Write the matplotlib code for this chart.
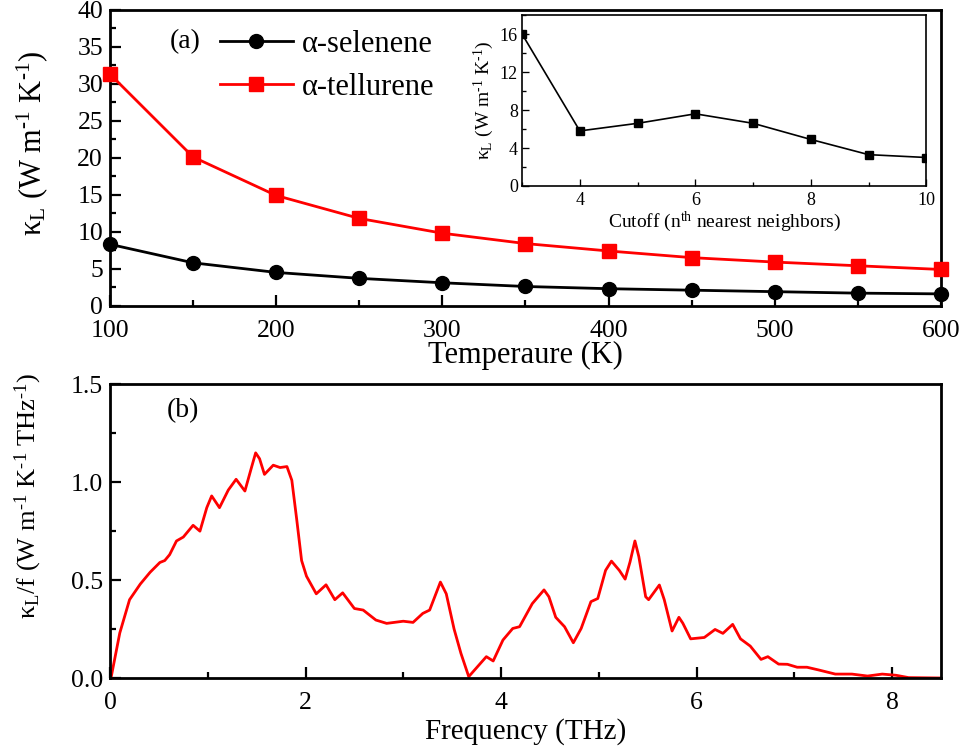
import matplotlib

matplotlib.use("Agg")
import matplotlib.pyplot as plt
from matplotlib.ticker import MultipleLocator

plt.rcParams["font.family"] = ["Liberation Serif", "DejaVu Serif"]
plt.rcParams["mathtext.fontset"] = "custom"
plt.rcParams["mathtext.rm"] = "Liberation Serif"
plt.rcParams["mathtext.it"] = "Liberation Serif:italic"
plt.rcParams["xtick.direction"] = "in"
plt.rcParams["ytick.direction"] = "in"

# panel (a): lattice thermal conductivity vs temperature
temperature = [100, 150, 200, 250, 300, 350, 400, 450, 500, 550, 600]
kappa_selenene = [8.3, 5.8, 4.5, 3.7, 3.1, 2.6, 2.3, 2.1, 1.9, 1.7, 1.6]
kappa_tellurene = [31.3, 20.1, 14.9, 11.8, 9.8, 8.4, 7.4, 6.5, 5.9, 5.4, 4.9]

# inset: convergence with cutoff
cutoff = [3, 4, 5, 6, 7, 8, 9, 10]
kappa_cutoff = [16.0, 5.8, 6.6, 7.6, 6.6, 4.9, 3.3, 3.0]

# panel (b): spectral kappa
freq = [0.0, 0.01, 0.10, 0.20, 0.31, 0.41, 0.51, 0.56, 0.61, 0.68, 0.75, 0.80,
        0.85, 0.92, 0.99, 1.04, 1.12, 1.21, 1.29, 1.38, 1.45, 1.49, 1.53, 1.58,
        1.67, 1.74, 1.81, 1.86, 1.91, 1.96, 2.01, 2.11, 2.21, 2.30, 2.38, 2.50,
        2.59, 2.72, 2.83, 3.00, 3.10, 3.20, 3.27, 3.38, 3.44, 3.52, 3.59, 3.67,
        3.76, 3.85, 3.92, 4.02, 4.12, 4.19, 4.32, 4.44, 4.49, 4.56, 4.65, 4.74,
        4.82, 4.92, 4.99, 5.07, 5.13, 5.21, 5.27, 5.32, 5.37, 5.41, 5.48, 5.51,
        5.62, 5.67, 5.75, 5.82, 5.86, 5.94, 6.08, 6.19, 6.27, 6.37, 6.45, 6.55,
        6.66, 6.73, 6.84, 6.93, 7.03, 7.13, 7.25, 7.42, 7.59, 7.75, 7.90, 8.04,
        8.17, 8.5]
spectral = [0.0, 0.0, 0.23, 0.40, 0.48, 0.54, 0.59, 0.60, 0.63, 0.70, 0.72, 0.75,
            0.78, 0.75, 0.87, 0.93, 0.87, 0.96, 1.015, 0.955, 1.08, 1.15, 1.12, 1.04,
            1.087, 1.075, 1.08, 1.01, 0.81, 0.60, 0.52, 0.43, 0.476, 0.40, 0.435, 0.355,
            0.347, 0.296, 0.279, 0.29, 0.284, 0.33, 0.347, 0.49, 0.43, 0.25, 0.126, 0.007,
            0.058, 0.109, 0.087, 0.194, 0.253, 0.262, 0.38, 0.45, 0.415, 0.31, 0.262, 0.18,
            0.253, 0.39, 0.406, 0.55, 0.597, 0.55, 0.505, 0.593, 0.70, 0.62, 0.415, 0.40,
            0.475, 0.40, 0.24, 0.31, 0.28, 0.20, 0.207, 0.248, 0.228, 0.274, 0.20, 0.163,
            0.095, 0.109, 0.071, 0.07, 0.055, 0.055, 0.041, 0.02, 0.02, 0.01, 0.02, 0.014,
            0.002, 0.0]

RED = "#ff0000"
INV = r"$^{\text{-1}}$"
KL = r"κ$_{\mathrm{L}}$"

fig = plt.figure(figsize=(9.65, 7.53), dpi=100)
ax1 = fig.add_axes([0.114, 0.594, 0.861, 0.393])
ax2 = fig.add_axes([0.114, 0.0996, 0.861, 0.390])
axin = fig.add_axes([0.541, 0.753, 0.419, 0.227])


def style_axes(ax, lw, major, minor, size, xpad, ypad):
    for sp in ax.spines.values():
        sp.set_linewidth(lw)
    ax.tick_params(which="major", length=major, width=lw * 0.8, labelsize=size)
    ax.tick_params(which="minor", length=minor, width=lw * 0.8)
    ax.tick_params(axis="x", which="major", pad=xpad)
    ax.tick_params(axis="y", which="major", pad=ypad)


ax1.plot(temperature, kappa_selenene, "-o", color="black", lw=2, ms=10,
         label="α-selenene", clip_on=False, zorder=3)
ax1.plot(temperature, kappa_tellurene, "-s", color=RED, lw=2, ms=9.5,
         label="α-tellurene", clip_on=False, zorder=3)
ax1.set_xlim(100, 600)
ax1.set_ylim(0, 40)
ax1.xaxis.set_major_locator(MultipleLocator(100))
ax1.xaxis.set_minor_locator(MultipleLocator(50))
ax1.yaxis.set_major_locator(MultipleLocator(5))
ax1.yaxis.set_minor_locator(MultipleLocator(2.5))
style_axes(ax1, 2, 8, 4, 18.5, 10, 5)
ax1.set_xlabel("Temperaure (K)", fontsize=22)
ax1.xaxis.set_label_coords(0.5, -0.12)
ax1.set_ylabel(f"{KL} (W m{INV} K{INV})", fontsize=22)
ax1.yaxis.set_label_coords(-0.072, 0.55)
ax1.text(0.072, 0.893, "(a)", transform=ax1.transAxes, fontsize=20, va="center")
ax1.legend(loc="upper left", bbox_to_anchor=(0.099, 1.024), frameon=False, fontsize=22,
           handlelength=2.4, handletextpad=0.3, labelspacing=0.45)

axin.plot(cutoff, kappa_cutoff, "-s", color="black", lw=1.2, ms=6)
axin.set_xlim(3, 10)
axin.set_ylim(0, 18)
axin.set_xticks([4, 6, 8, 10])
axin.xaxis.set_minor_locator(MultipleLocator(1))
axin.yaxis.set_major_locator(MultipleLocator(4))
axin.yaxis.set_minor_locator(MultipleLocator(2))
style_axes(axin, 1.2, 5, 3, 13, 4, 3)
axin.set_xlabel(r"Cutoff (n$^{\mathrm{th}}$ nearest neighbors)", fontsize=14, labelpad=1)
axin.set_ylabel(f"{KL} (W m{INV} K{INV})", fontsize=14, labelpad=3)

ax2.plot(freq, spectral, color=RED, lw=2, solid_joinstyle="round")
ax2.set_xlim(0, 8.5)
ax2.set_ylim(0, 1.5)
ax2.xaxis.set_major_locator(MultipleLocator(2))
ax2.xaxis.set_minor_locator(MultipleLocator(1))
ax2.yaxis.set_major_locator(MultipleLocator(0.5))
ax2.yaxis.set_minor_locator(MultipleLocator(0.25))
style_axes(ax2, 2, 8, 4, 18.5, 10, 5)
ax2.set_xlabel("Frequency (THz)", fontsize=21)
ax2.xaxis.set_label_coords(0.5, -0.135)
ax2.set_ylabel(f"{KL}/f (W m{INV} K{INV} THz{INV})", fontsize=19)
ax2.yaxis.set_label_coords(-0.08, 0.62)
ax2.text(0.068, 0.91, "(b)", transform=ax2.transAxes, fontsize=20, va="center")

fig.savefig("out.png", dpi=100)
